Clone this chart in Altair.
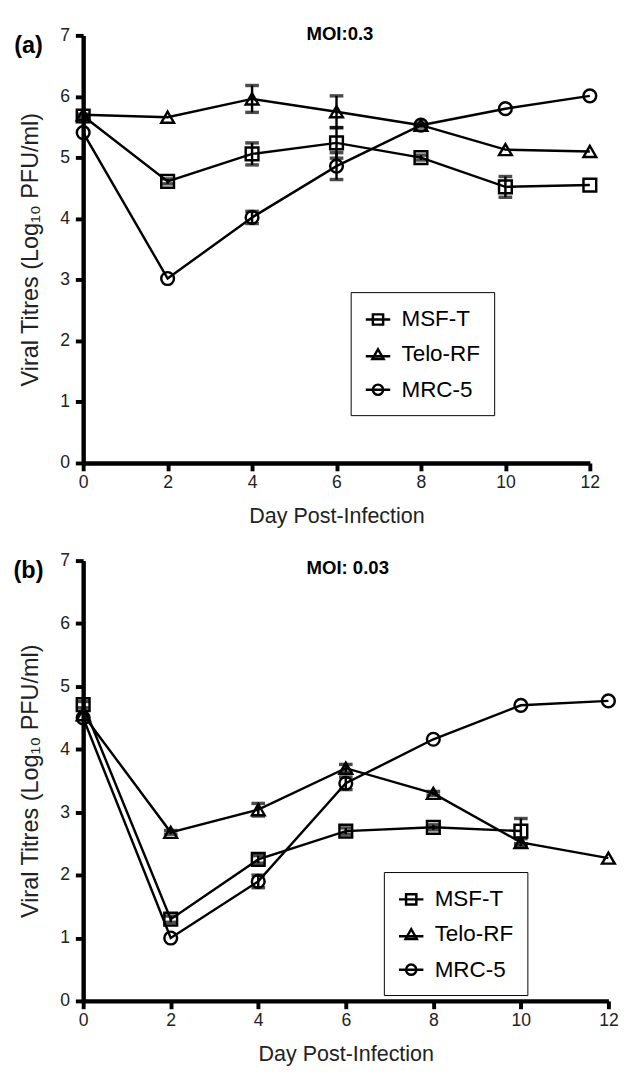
import altair as alt
import pandas as pd

days = [0, 2, 4, 6, 8, 10, 12]
series_names = ["MSF-T", "Telo-RF", "MRC-5"]
x_ticks = [0, 2, 4, 6, 8, 10, 12]
y_ticks = [0, 1, 2, 3, 4, 5, 6, 7]

# Panel (a) MOI 0.3
a_msf = [5.68, 4.61, 5.06, 5.24, 5.00, 4.52, 4.55]
a_msf_err = [0.03, 0.04, 0.18, 0.25, 0.04, 0.17, 0.0]
a_telo = [5.70, 5.66, 5.96, 5.75, 5.53, 5.13, 5.10]
a_telo_err = [0.0, 0.0, 0.22, 0.26, 0.0, 0.0, 0.0]
a_mrc = [5.41, 3.02, 4.02, 4.86, 5.53, 5.80, 6.01]
a_mrc_err = [0.0, 0.0, 0.10, 0.22, 0.03, 0.0, 0.0]

# Panel (b) MOI 0.03
b_msf_days = [0, 2, 4, 6, 8, 10]
b_msf = [4.71, 1.30, 2.25, 2.70, 2.76, 2.70]
b_msf_err = [0.05, 0.05, 0.06, 0.05, 0.04, 0.20]
b_telo = [4.55, 2.68, 3.04, 3.70, 3.30, 2.52, 2.27]
b_telo_err = [0.0, 0.03, 0.10, 0.06, 0.03, 0.06, 0.0]
b_mrc = [4.50, 1.00, 1.90, 3.46, 4.16, 4.70, 4.77]
b_mrc_err = [0.0, 0.0, 0.10, 0.10, 0.0, 0.0, 0.0]

FONT = "Liberation Sans"


def make_df(parts):
    rows = []
    for name, dd, vals, errs in parts:
        for d, v, e in zip(dd, vals, errs):
            rows.append({"day": d, "value": v, "err": e, "series": name})
    return pd.DataFrame(rows)


df_a = make_df([
    ("MSF-T", days, a_msf, a_msf_err),
    ("Telo-RF", days, a_telo, a_telo_err),
    ("MRC-5", days, a_mrc, a_mrc_err),
])
df_b = make_df([
    ("MSF-T", b_msf_days, b_msf, b_msf_err),
    ("Telo-RF", days, b_telo, b_telo_err),
    ("MRC-5", days, b_mrc, b_mrc_err),
])

legend_paths = [
    "M-1,0H1M-0.42,-0.42H0.42V0.42H-0.42Z",
    "M-1,0.14H1M0,-0.44L0.46,0.36H-0.46Z",
    "M-1,0H1M0.42,0A0.42,0.42,0,1,1,-0.42,0A0.42,0.42,0,1,1,0.42,0Z",
]


def panel(df, label, moi, w, h, lx, ly, mx, my):
    X = lambda f="day": alt.X(
        f"{f}:Q",
        scale=alt.Scale(domain=[0, 12], nice=False),
        axis=alt.Axis(values=x_ticks, title="Day Post-Infection", titleFontSize=22,
                      labelPadding=3, titlePadding=15, labelFlush=False, format="d"),
    )
    Y = lambda f="value": alt.Y(
        f"{f}:Q",
        scale=alt.Scale(domain=[0, 7], nice=False),
        axis=alt.Axis(values=y_ticks, title="Viral Titres (Log\u2081\u2080 PFU/ml)",
                      titleFontSize=24, labelPadding=6, titlePadding=18, format="d"),
    )
    base = alt.Chart(df)
    lines = base.mark_line(color="black", strokeWidth=2.5).encode(
        x=X(), y=Y(), detail="series:N", order="day:Q"
    )
    eb = base.transform_filter("datum.err > 0").transform_calculate(
        lo="datum.value - datum.err", hi="datum.value + datum.err"
    )
    rules = eb.mark_rule(color="black", strokeWidth=2.5).encode(
        x=X(), y=Y("lo"), y2="hi:Q"
    )
    cap_lo = eb.mark_tick(color="black", orient="horizontal", size=14, thickness=3.5).encode(
        x=X(), y=Y("lo")
    )
    cap_hi = eb.mark_tick(color="black", orient="horizontal", size=14, thickness=3.5).encode(
        x=X(), y=Y("hi")
    )
    pts = base.mark_point(filled=False, size=170, strokeWidth=2.5, color="black", opacity=1).encode(
        x=X(), y=Y(),
        shape=alt.Shape("series:N",
                        scale=alt.Scale(domain=series_names,
                                        range=["square", "triangle-up", "circle"]),
                        legend=None),
    )
    leg = base.transform_filter("false").mark_point(
        filled=False, size=625, strokeWidth=2.5, color="black", opacity=1
    ).encode(
        x=X(), y=Y(),
        shape=alt.Shape("series:N",
                        scale=alt.Scale(domain=series_names, range=legend_paths),
                        legend=alt.Legend(title=None, orient="none", legendX=lx, legendY=ly,
                                          strokeColor="black", padding=14,
                                          symbolSize=625, symbolStrokeWidth=2.5,
                                          symbolStrokeColor="black",
                                          symbolFillColor="transparent",
                                          labelFont=FONT, labelFontSize=23,
                                          labelColor="black", labelOffset=10,
                                          rowPadding=10)),
    )
    tag = alt.Chart(pd.DataFrame({"t": [label]})).mark_text(
        font=FONT, fontSize=24, fontWeight="bold", color="black", align="center", baseline="middle"
    ).encode(x=alt.value(-56), y=alt.value(11), text="t:N")
    title = alt.Chart(pd.DataFrame({"t": [moi]})).mark_text(
        font=FONT, fontSize=19, fontWeight="bold", color="black", align="center", baseline="middle"
    ).encode(x=alt.value(mx), y=alt.value(my), text="t:N")
    return alt.layer(lines, rules, cap_lo, cap_hi, pts, leg, tag, title).resolve_scale(
        shape="independent"
    ).properties(width=w, height=h)


pa = panel(df_a, "(a)", "MOI:0.3", 519, 438, 274, 263, 263, -1)
pb = panel(df_b, "(b)", "MOI: 0.03", 538, 451, 308, 319, 271, 8)

chart = alt.vconcat(pa, pb, spacing=26).configure(font=FONT).configure_view(
    stroke=None
).configure_axis(
    domainColor="black", domainWidth=4.5, tickColor="black", tickWidth=4, tickSize=8,
    labelFont=FONT, labelFontSize=18, labelColor="#222", titleFont=FONT,
    titleFontWeight="normal", titleColor="#222", grid=False
)

chart.save("out.html", embed_options={"renderer": "svg", "actions": False})
